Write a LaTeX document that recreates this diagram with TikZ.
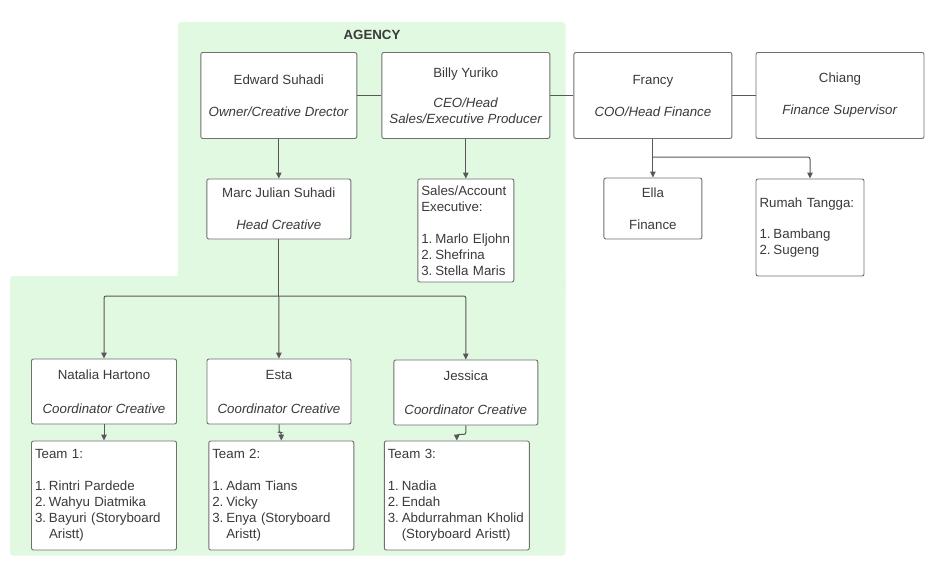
\documentclass[tikz,border=0pt]{standalone}
\usepackage{fontspec}
\setmainfont{Liberation Sans}
\usepackage{xcolor}
\usepackage{tikz}
\usetikzlibrary{arrows.meta,positioning}
\definecolor{agencygreen}{RGB}{225,248,225}
\definecolor{linegrey}{RGB}{88,88,88}
\definecolor{boxgrey}{RGB}{112,112,112}
\definecolor{textgrey}{RGB}{58,58,58}
\tikzset{
  person/.style={draw=boxgrey,fill=white,rounded corners=2pt,line width=0.9pt,
    align=center,text=textgrey,inner sep=3.5pt,
    font=\fontsize{13.3}{16}\selectfont},
  listbox/.style={person,align=left},
  boxsize/.style 2 args={minimum width=#1pt,minimum height=#2pt},
  flow/.style={-{Triangle[length=6pt,width=5.5pt]},line width=1pt,
    draw=linegrey,rounded corners=2pt},
  link/.style={line width=1pt,draw=linegrey}
}
\newcommand{\roletext}[1]{\textit{#1}}
\newcommand{\itemno}[1]{\makebox[14pt][l]{#1}}

\begin{document}
\begin{tikzpicture}[x=1pt,y=-1pt]
  \useasboundingbox (0,0) rectangle (935,560);
  % agency area
  \fill[agencygreen,rounded corners=3pt] (178,22) rectangle (565.5,292);
  \fill[agencygreen,rounded corners=3pt] (10,276) rectangle (565.5,555.5);
  \node[font=\bfseries\fontsize{13.3}{16}\selectfont,text=textgrey] (agency)
    at (372,35) {AGENCY};

  % top row
  \node[person,boxsize={156}{86}] (edward) at (278.8,95.5)
    {Edward Suhadi\\[16pt]\roletext{Owner/Creative Drector}};
  \node[person,boxsize={168}{86}] (billy) at (465.8,95.5)
    {Billy Yuriko\\[14pt]\roletext{CEO/Head}\\\roletext{Sales/Executive Producer}};
  \node[person,boxsize={158}{86}] (francy) at (652.9,95.5)
    {Francy\\[16pt]\roletext{COO/Head Finance}};
  \node[person,boxsize={168}{86}] (chiang) at (840,95.5)
    {Chiang\\[16pt]\roletext{Finance Supervisor}};

  % second row
  \node[person,boxsize={144}{60}] (marc) at (278.8,209)
    {Marc Julian Suhadi\\[16pt]\roletext{Head Creative}};
  \node[listbox,boxsize={96}{103},text width=89pt] (sales) at (465.8,230.5)
    {Sales/Account\\Executive:\\[16pt]\itemno{1.}Marlo Eljohn\\
     \itemno{2.}Shefrina\\\itemno{3.}Stella Maris};
  \node[person,boxsize={98}{61}] (ella) at (652.9,208.5)
    {Ella\\[16pt]Finance};
  \node[listbox,boxsize={108}{97},text width=101pt] (rumah) at (810,227.5)
    {Rumah Tangga:\\[15pt]\itemno{1.}Bambang\\\itemno{2.}Sugeng};

  % coordinators
  \node[person,boxsize={145}{65}] (natalia) at (104,391.5)
    {Natalia Hartono\\[18pt]\roletext{Coordinator Creative}};
  \node[person,boxsize={144}{65}] (esta) at (279,391.5)
    {Esta\\[18pt]\roletext{Coordinator Creative}};
  \node[person,boxsize={144}{65}] (jessica) at (465.8,392.5)
    {Jessica\\[18pt]\roletext{Coordinator Creative}};

  % teams
  \node[listbox,boxsize={145}{109},text width=138pt] (team1) at (104,495.5)
    {Team 1:\\[16pt]\itemno{1.}Rintri Pardede\\\itemno{2.}Wahyu Diatmika\\
     \itemno{3.}Bayuri (Storyboard\\\hspace*{14pt}Aristt)};
  \node[listbox,boxsize={145}{109},text width=138pt] (team2) at (281.3,495.5)
    {Team 2:\\[16pt]\itemno{1.}Adam Tians\\\itemno{2.}Vicky\\
     \itemno{3.}Enya (Storyboard\\\hspace*{14pt}Aristt)};
  \node[listbox,boxsize={145}{109},text width=138pt] (team3) at (456.8,495.5)
    {Team 3:\\[16pt]\itemno{1.}Nadia\\\itemno{2.}Endah\\
     \itemno{3.}Abdurrahman Kholid\\\hspace*{14pt}(Storyboard Aristt)};

  % connectors
  \draw[link] (edward) -- (billy);
  \draw[link] (billy) -- (francy);
  \draw[link] (francy) -- (chiang);
  \draw[flow] (edward) -- (marc);
  \draw[flow] (billy) -- (sales);

  \coordinate (finsplit) at (652.9,157);
  \draw[link] (francy) -- (finsplit);
  \draw[flow] (finsplit) -- (ella);
  \draw[flow] (finsplit) -| (rumah);

  \coordinate (crsplit) at (278.8,296);
  \draw[link] (marc) -- (crsplit);
  \draw[flow] (crsplit) -| (natalia);
  \draw[flow] (crsplit) -- (esta);
  \draw[flow] (crsplit) -| (jessica);

  \draw[flow] (natalia) -- (team1);
  \draw[flow] (esta.south) -- ++(0,8) -| (team2);
  \draw[flow] (jessica.south) -- ++(0,9) -| (team3);
\end{tikzpicture}
\end{document}
